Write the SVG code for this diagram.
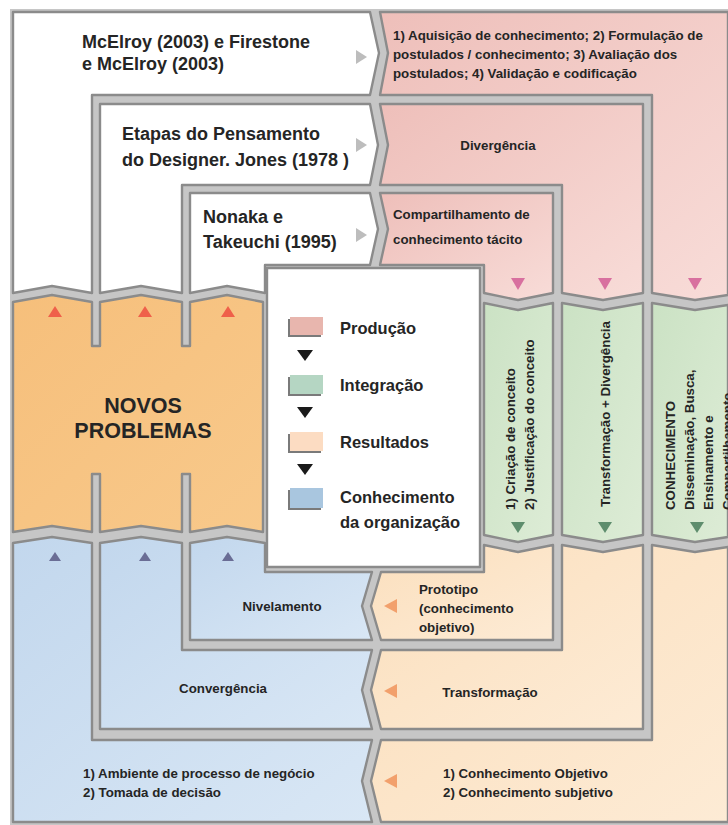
<svg xmlns="http://www.w3.org/2000/svg" width="728" height="825" viewBox="0 0 728 825">
  <defs>
    <linearGradient id="gPink" x1="0" y1="0" x2="1" y2="1">
      <stop offset="0" stop-color="#eebfba"/>
      <stop offset="1" stop-color="#f8dcd8"/>
    </linearGradient>
    <linearGradient id="gGreen" x1="0" y1="0" x2="1" y2="1">
      <stop offset="0" stop-color="#cbe2c4"/>
      <stop offset="1" stop-color="#ddecd6"/>
    </linearGradient>
    <linearGradient id="gOrange" x1="0" y1="0" x2="1" y2="1">
      <stop offset="0" stop-color="#f6bf7b"/>
      <stop offset="1" stop-color="#f8c98b"/>
    </linearGradient>
    <linearGradient id="gPeach" x1="0" y1="0" x2="1" y2="1">
      <stop offset="0" stop-color="#fbdfbd"/>
      <stop offset="1" stop-color="#fdebd5"/>
    </linearGradient>
    <linearGradient id="gBlue" x1="0" y1="0" x2="1" y2="1">
      <stop offset="0" stop-color="#c2d7ed"/>
      <stop offset="1" stop-color="#d9e7f5"/>
    </linearGradient>
    <style>
      .shape { stroke: #8b8b8b; stroke-width: 2.4; stroke-linejoin: round; }
      .white { fill: #ffffff; }
      .pink { fill: url(#gPink); }
      .green { fill: url(#gGreen); }
      .orange { fill: url(#gOrange); }
      .peach { fill: url(#gPeach); }
      .blue { fill: url(#gBlue); }
      text { font-family: "Liberation Sans", Arial, Helvetica, sans-serif; font-weight: bold; fill: #252525; }
      .title { font-size: 18px; }
      .small { font-size: 13.3px; }
      .big { font-size: 21.5px; }
      .leg { font-size: 16.5px; }
      .mid { text-anchor: middle; }
      .a-gray { fill: #bdbdbd; }
      .a-pink { fill: #d8709f; }
      .a-red { fill: #ef604a; }
      .a-navy { fill: #6a6d95; }
      .a-green { fill: #5e8d6d; }
      .a-orange { fill: #f2a06c; }
      .a-black { fill: #1a1a1a; }
    </style>
  </defs>

  <!-- gray frame behind every block; the gaps between blocks show it -->
  <rect x="10" y="9" width="718" height="816" fill="#c6c6c6"/>

  <!-- white blocks (authors) -->
  <g id="mcelroy">
    <polygon class="shape white" points="13,12 370,12 379,53 370,95 92,95 92,293 52,286 13,293"/>
    <text class="title" x="82" y="48">McElroy (2003) e Firestone</text>
    <text class="title" x="82" y="70">e McElroy (2003)</text>
  </g>
  <g id="jones">
    <polygon class="shape white" points="100,104 370,104 378,145 370,185 182,185 182,293 141,286 100,293"/>
    <text class="title" x="122" y="140">Etapas do Pensamento</text>
    <text class="title" x="122" y="166">do Designer. Jones (1978 )</text>
  </g>
  <g id="nonaka">
    <polygon class="shape white" points="190,193 370,193 378,229 370,265 265,265 265,293 227,286 190,293"/>
    <text class="title" x="203" y="223">Nonaka e</text>
    <text class="title" x="203" y="248">Takeuchi (1995)</text>
  </g>

  <!-- pink blocks (production) -->
  <g id="producao-mcelroy">
    <polygon class="shape pink" points="380,12 728,12 728,295 695,300 652,293 652,95 380,95 388,53"/>
    <text class="small" x="393" y="40">1) Aquisição de conhecimento; 2) Formulação de</text>
    <text class="small" x="393" y="59">postulados / conhecimento; 3) Avaliação dos</text>
    <text class="small" x="393" y="78">postulados; 4) Validação e codificação</text>
  </g>
  <g id="producao-jones">
    <polygon class="shape pink" points="380,104 643,104 643,293 603,300 562,293 562,185 380,185 388,145"/>
    <text class="small mid" x="498" y="150">Divergência</text>
  </g>
  <g id="producao-nonaka">
    <polygon class="shape pink" points="380,193 553,193 553,293 518,300 484,293 484,265 380,265 388,229"/>
    <text class="small" x="393" y="219">Compartilhamento de</text>
    <text class="small" x="393" y="244">conhecimento tácito</text>
  </g>

  <!-- green columns (integration) -->
  <g id="integracao-nonaka">
    <polygon class="shape green" points="484,303 518,310 553,303 553,535 518,542 484,535"/>
    <text class="small" transform="translate(515,510) rotate(-90)">1) Criação de conceito</text>
    <text class="small" transform="translate(534,510) rotate(-90)">2) Justificação do conceito</text>
  </g>
  <g id="integracao-jones">
    <polygon class="shape green" points="562,303 603,310 643,303 643,535 603,542 562,535"/>
    <text class="small" transform="translate(610,507) rotate(-90)">Transformação + Divergência</text>
  </g>
  <g id="integracao-mcelroy">
    <polygon class="shape green" points="652,303 695,310 728,305 728,537 695,542 652,535"/>
    <text class="small" transform="translate(675,510) rotate(-90)">CONHECIMENTO</text>
    <text class="small" transform="translate(694,510) rotate(-90)">Disseminação, Busca,</text>
    <text class="small" transform="translate(713,510) rotate(-90)">Ensinamento e</text>
    <text class="small" transform="translate(732,510) rotate(-90)">Compartilhamento</text>
  </g>

  <!-- orange block -->
  <g id="novos-problemas">
    <polygon class="shape orange" points="13,302 52,295 92,302 92,346 100,346 100,302 141,295 182,302 182,346 190,346 190,302 227,295 263,302 263,532 227,526 190,532 190,474 182,474 182,532 141,526 100,532 100,474 92,474 92,532 52,526 13,532"/>
    <text class="big mid" x="143" y="413">NOVOS</text>
    <text class="big mid" x="143" y="438">PROBLEMAS</text>
  </g>

  <!-- blue blocks (organisational knowledge) -->
  <g id="organizacao-mcelroy">
    <polygon class="shape blue" points="13,543 52,537 92,543 92,740 372,740 362,781 372,822 13,822"/>
    <text class="small" x="83" y="778">1) Ambiente de processo de negócio</text>
    <text class="small" x="83" y="797">2) Tomada de decisão</text>
  </g>
  <g id="organizacao-jones">
    <polygon class="shape blue" points="100,543 141,537 182,543 182,650 372,650 362,690 372,729 100,729"/>
    <text class="small mid" x="223" y="693">Convergência</text>
  </g>
  <g id="organizacao-nonaka">
    <polygon class="shape blue" points="190,543 227,537 265,543 265,572 372,572 362,606 372,640 190,640"/>
    <text class="small mid" x="282" y="611">Nivelamento</text>
  </g>

  <!-- peach blocks (results) -->
  <g id="resultados-nonaka">
    <polygon class="shape peach" points="381,572 484,572 484,545 518,552 553,545 553,640 381,640 371,606"/>
    <text class="small" x="419" y="594">Prototipo</text>
    <text class="small" x="419" y="613">(conhecimento</text>
    <text class="small" x="419" y="632">objetivo)</text>
  </g>
  <g id="resultados-jones">
    <polygon class="shape peach" points="381,650 562,650 562,545 603,552 643,545 643,729 381,729 371,690"/>
    <text class="small mid" x="490" y="697">Transformação</text>
  </g>
  <g id="resultados-mcelroy">
    <polygon class="shape peach" points="381,740 652,740 652,545 695,552 728,547 728,822 381,822 371,781"/>
    <text class="small" x="443" y="778">1) Conhecimento Objetivo</text>
    <text class="small" x="443" y="797">2) Conhecimento subjetivo</text>
  </g>

  <!-- legend -->
  <g id="legenda">
    <rect class="shape white" x="267" y="268" width="213" height="299"/>
    <rect x="288" y="319" width="33" height="18" fill="#7a7a7a"/>
    <rect x="290" y="317" width="33" height="18" fill="#e8b6ae"/>
    <rect x="288" y="377" width="33" height="19" fill="#7a7a7a"/>
    <rect x="290" y="375" width="33" height="19" fill="#b5d6c3"/>
    <rect x="288" y="434" width="33" height="19" fill="#7a7a7a"/>
    <rect x="290" y="432" width="33" height="19" fill="#fcdcc2"/>
    <rect x="288" y="490" width="33" height="20" fill="#7a7a7a"/>
    <rect x="290" y="488" width="33" height="20" fill="#a9c6df"/>
    <polygon class="a-black" points="297,350 313,350 305,361"/>
    <polygon class="a-black" points="297,407 313,407 305,418"/>
    <polygon class="a-black" points="297,464 313,464 305,475"/>
    <text class="leg" x="340" y="334">Produção</text>
    <text class="leg" x="340" y="391">Integração</text>
    <text class="leg" x="340" y="448">Resultados</text>
    <text class="leg" x="340" y="503">Conhecimento</text>
    <text class="leg" x="340" y="528">da organização</text>
  </g>

  <!-- flow arrows between the blocks -->
  <g id="connectors">
    <polygon class="a-gray" points="356,50 367,57 356,64"/>
    <polygon class="a-gray" points="356,138 367,145 356,152"/>
    <polygon class="a-gray" points="356,228 367,235 356,242"/>
    <polygon class="a-pink" points="511,278 525,278 518,290"/>
    <polygon class="a-pink" points="598,278 612,278 605,290"/>
    <polygon class="a-pink" points="688,278 702,278 695,290"/>
    <polygon class="a-red" points="48,317 62,317 55,306"/>
    <polygon class="a-red" points="138,317 152,317 145,306"/>
    <polygon class="a-red" points="221,317 235,317 228,306"/>
    <polygon class="a-green" points="511,522 525,522 518,533"/>
    <polygon class="a-green" points="598,522 612,522 605,533"/>
    <polygon class="a-green" points="690,522 704,522 697,533"/>
    <polygon class="a-navy" points="49,561 61,561 55,552"/>
    <polygon class="a-navy" points="139,561 151,561 145,552"/>
    <polygon class="a-navy" points="222,561 234,561 228,552"/>
    <polygon class="a-orange" points="397,599 397,613 384,606"/>
    <polygon class="a-orange" points="397,684 397,698 384,691"/>
    <polygon class="a-orange" points="397,774 397,788 384,781"/>
  </g>
</svg>
